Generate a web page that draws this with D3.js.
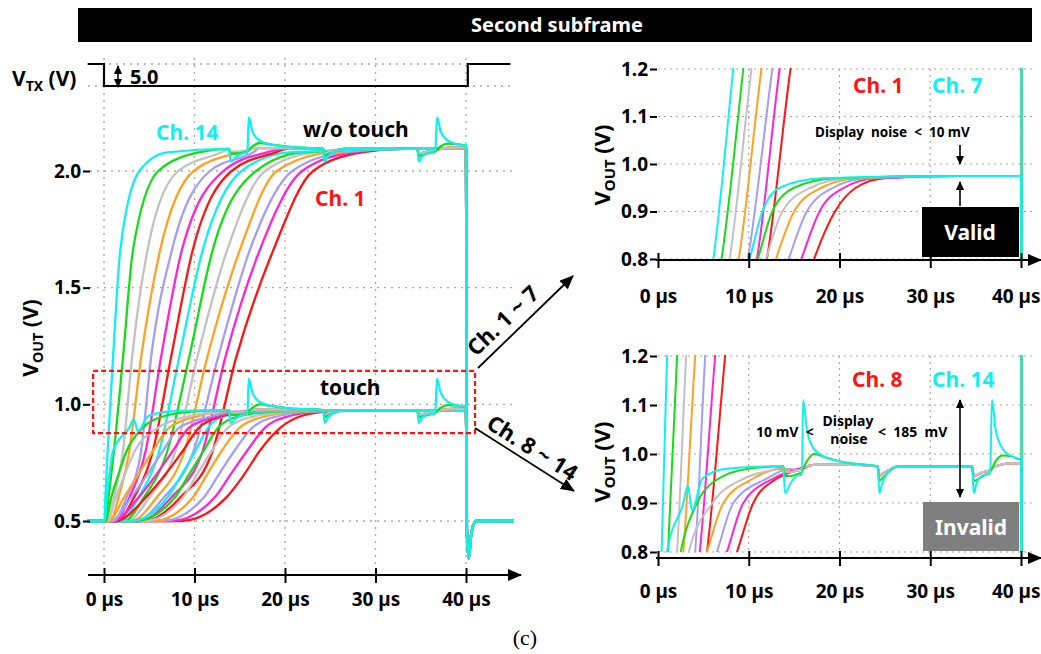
<!DOCTYPE html>
<html>
<head>
<meta charset="utf-8">
<script src="https://cdn.jsdelivr.net/npm/d3@7"></script>
<style>
  body { margin: 0; background: #fff; }
  svg text { font-family: "Noto Sans", "DejaVu Sans", sans-serif; font-weight: 700; white-space: pre; }
</style>
</head>
<body>
<div id="chart"></div>
<script>
// ---- values ----
const channels = ["Ch. 1", "Ch. 2", "Ch. 3", "Ch. 4", "Ch. 5", "Ch. 6", "Ch. 7",
                  "Ch. 8", "Ch. 9", "Ch. 10", "Ch. 11", "Ch. 12", "Ch. 13", "Ch. 14"];
const channelColors = ["#ff1414", "#ff24d2", "#a59ef2", "#ffa224", "#c2c2c2", "#16dc16", "#10f0f0",
                       "#ff1414", "#ff24d2", "#a59ef2", "#ffa224", "#c2c2c2", "#16dc16", "#10f0f0"];
const timeTicks = [0, 10, 20, 30, 40];
const mainVTicks = [0.5, 1.0, 1.5, 2.0];
const zoomVTicks = [0.8, 0.9, 1.0, 1.1, 1.2];

// V_TX pulse
const vtxT = [-1.8, 0, 0, 40.2, 40.2, 44.9];
const vtxV = [5, 5, 0, 0, 5, 5];

// w/o touch: time (us) where each channel crosses each level (V)
const noTouchLevels = [0.5, 0.6, 0.8, 1.2, 1.66, 2.0, 2.08];
const noTouchTimes = [
  [4.5, 8.4, 12.0, 14.6, 18.7, 23.1, 28.5],
  [4.0, 7.4, 10.9, 13.4, 17.2, 21.9, 27.5],
  [3.5, 6.6, 9.9, 12.6, 16.1, 20.8, 26.5],
  [3.0, 5.8, 8.9, 11.4, 15.0, 19.1, 25.0],
  [2.6, 5.0, 7.9, 10.3, 13.6, 17.8, 23.5],
  [2.2, 4.4, 7.0, 9.4, 12.0, 16.8, 22.0],
  [1.8, 3.8, 6.1, 8.3, 10.9, 15.2, 20.5],
  [1.5, 3.3, 5.4, 7.4, 9.8, 14.1, 19.0],
  [1.2, 2.8, 4.6, 6.3, 8.6, 13.2, 18.0],
  [1.0, 2.5, 4.1, 5.2, 7.5, 11.7, 16.5],
  [0.7, 1.6, 2.8, 4.1, 6.2, 9.9, 15.0],
  [0.5, 1.1, 2.1, 3.1, 4.8, 8.2, 13.0],
  [0.2, 0.5, 1.1, 2.1, 3.2, 6.0, 10.5],
  [0.05, 0.15, 0.4, 1.0, 1.8, 3.9, 7.0]
];
const noTouchPlateau = 2.095;

// touch: same idea, lower plateau
const touchLevels = [0.5, 0.6, 0.7, 0.8, 0.9, 0.95, 0.97];
const touchTimes = [
  [8.5, 13.5, 15.5, 17.2, 19.5, 21.8, 25.0],
  [7.5, 12.2, 14.0, 15.8, 17.8, 20.5, 24.0],
  [6.5, 11.0, 12.7, 14.4, 16.4, 19.3, 23.0],
  [5.5, 9.8, 11.4, 13.0, 15.0, 18.0, 22.0],
  [4.5, 8.7, 10.3, 11.9, 13.7, 16.8, 21.0],
  [3.5, 7.8, 9.4, 11.0, 12.6, 15.0, 19.5],
  [3.0, 7.0, 8.6, 10.1, 11.5, 13.4, 18.0],
  [1.3, 4.6, 6.8, 8.7, 10.5, 13.1, 16.0],
  [1.0, 3.8, 5.8, 7.6, 9.4, 12.7, 15.5],
  [0.8, 3.0, 4.8, 6.5, 8.3, 12.0, 14.5],
  [0.5, 2.2, 3.8, 5.4, 7.2, 10.5, 13.8],
  [0.3, 1.3, 2.3, 3.4, 6.0, 9.5, 13.0],
  [0.2, 0.8, 1.6, 2.5, 4.3, 6.7, 10.0],
  [0.1, 0.3, 0.6, 1.0, 2.8, 4.9, 7.5]
];
const touchPlateau = 0.975;
const touchBump14 = [[3.3, 0.935], [3.75, 0.885]];

// display noise after settling (offset from plateau, V), Ch. 8 ~ 14 only
const noiseT     = [13.8, 14.0, 14.6, 15.5, 15.85, 16.0, 16.4, 17.2, 18.5, 20.5, 24.2, 24.4, 24.7, 25.4, 26.5, 34.6, 34.8, 35.1, 35.8, 36.6, 36.8, 37.2, 38.0, 39.0, 39.8];
const noiseCyan  = [0, -0.055, -0.035, -0.018, -0.018, 0.135, 0.075, 0.035, 0.018, 0.008, 0, -0.055, -0.035, -0.012, 0, 0, -0.055, -0.035, -0.018, -0.015, 0.135, 0.075, 0.035, 0.02, 0.015];
const noiseGreen = [0, -0.02, -0.02, -0.015, -0.012, -0.005, 0.01, 0.025, 0.018, 0.008, 0, -0.03, -0.025, -0.012, 0, 0, -0.03, -0.028, -0.02, -0.012, -0.005, 0.01, 0.022, 0.02, 0.015];
const noiseOther = [0, -0.012, -0.012, -0.008, -0.006, -0.003, 0, 0.003, 0.003, 0.003, 0, -0.02, -0.016, -0.008, 0, 0, -0.02, -0.018, -0.012, -0.008, -0.004, 0, 0.004, 0.006, 0.006];
const noiseGroup = ["", "", "", "", "", "", "", "other", "other", "other", "other", "other", "green", "cyan"];

// end of subframe, back to 0.5 V
const startT = -1.8;
const fallT = [40.1, 40.3, 40.6, 41.1, 45.3];
const fallV = [0.45, 0.34, 0.45, 0.5, 0.5];

// ---- build traces ----
const noiseSets = { cyan: noiseCyan, green: noiseGreen, other: noiseOther };

function trace(levels, times, plateau, group, extra) {
  let pts = [[startT, levels[0]]];
  levels.forEach((v, i) => pts.push([times[i], v]));
  if (extra) pts = pts.concat(extra);
  const last = times[times.length - 1];
  const nz = noiseSets[group];
  let endOffset = 0;
  if (nz) {
    noiseT.forEach((t, i) => { if (t > last + 0.6) pts.push([t, plateau + nz[i]]); });
    endOffset = nz[nz.length - 1];
  } else {
    pts.push([Math.max(last + 3, 33), plateau]);
  }
  pts.push([40, plateau + endOffset]);
  fallT.forEach((t, i) => pts.push([t, fallV[i]]));
  return pts.sort((a, b) => a[0] - b[0]);
}

const traces = [];
channels.forEach((name, i) => {
  traces.push({ ch: i, color: channelColors[i],
    pts: trace(touchLevels, touchTimes[i], touchPlateau, noiseGroup[i], i === 13 ? touchBump14 : null) });
  traces.push({ ch: i, color: channelColors[i],
    pts: trace(noTouchLevels, noTouchTimes[i], noTouchPlateau, noiseGroup[i]) });
});

// ---- svg ----
const width = 1041;
const height = 654;
const svg = d3.select("#chart").append("svg")
  .attr("width", width).attr("height", height);
svg.append("rect").attr("width", width).attr("height", height).attr("fill", "#fff");

const defs = svg.append("defs");
function addMarker(id, w, h) {
  defs.append("marker").attr("id", id)
    .attr("viewBox", `0 0 ${w} ${h}`).attr("refX", w - 1).attr("refY", h / 2)
    .attr("markerWidth", w).attr("markerHeight", h)
    .attr("markerUnits", "userSpaceOnUse").attr("orient", "auto-start-reverse")
    .append("path").attr("d", `M0,0 L${w},${h / 2} L0,${h} z`).attr("fill", "#000");
}
addMarker("arrowL", 14, 12);
addMarker("arrowS", 9, 8);

const GRID = "#a8a8a8";

function vLabel(g, tx, ty, size) {
  const t = g.append("text").attr("transform", `translate(${tx},${ty}) rotate(-90)`)
    .attr("text-anchor", "middle").attr("font-size", size);
  t.append("tspan").text("V");
  t.append("tspan").text("OUT").attr("font-size", size * 0.68).attr("dy", size * 0.22);
  t.append("tspan").text(" (V)").attr("dy", -size * 0.22);
}

function timeAxis(g, xs, y0, x0, x1, labelDy, clipLast) {
  g.append("line").attr("x1", x0).attr("x2", x1).attr("y1", y0).attr("y2", y0)
    .attr("stroke", "#000").attr("stroke-width", 2.2).attr("marker-end", "url(#arrowL)");
  const ax = g.append("g").attr("transform", `translate(0,${y0})`)
    .call(d3.axisBottom(xs).tickValues(timeTicks).tickFormat(d => d + " µs").tickSize(8));
  ax.select(".domain").remove();
  ax.selectAll(".tick line").attr("y1", -7).attr("y2", 8).attr("stroke", "#000").attr("stroke-width", 2);
  ax.selectAll(".tick text").attr("y", labelDy).attr("dy", 0).attr("fill", "#000")
    .attr("font-size", 19).attr("font-family", null);
  // last label sits against the page edge
  if (clipLast) {
    ax.selectAll(".tick text").filter(d => d === 40)
      .attr("text-anchor", "end").attr("x", width - 1 - xs(40));
  }
}

function valueAxis(g, ys, ticks, x0) {
  const ax = g.append("g").attr("transform", `translate(${x0},0)`)
    .call(d3.axisLeft(ys).tickValues(ticks).tickFormat(d3.format(".1f")).tickSize(7).tickPadding(2));
  ax.select(".domain").remove();
  ax.selectAll(".tick line").attr("stroke", "#000").attr("stroke-width", 2);
  ax.selectAll(".tick text").attr("fill", "#000").attr("font-size", 19).attr("font-family", null);
}

// title bar
svg.append("rect").attr("x", 78).attr("y", 8).attr("width", 954).attr("height", 34).attr("fill", "#000");
svg.append("text").attr("x", 557).attr("y", 32).attr("text-anchor", "middle")
  .attr("fill", "#fff").attr("font-size", 20).text("Second subframe");

// ================= main panel =================
const x = d3.scaleLinear().domain([0, 40]).range([104, 466]);
const y = d3.scaleLinear().domain([0.5, 2.0]).range([521, 171]);
const yTx = d3.scaleLinear().domain([0, 5]).range([86, 64]);
const main = svg.append("g");

// grid
main.selectAll(".vg").data(timeTicks).enter().append("line")
  .attr("x1", d => x(d)).attr("x2", d => x(d)).attr("y1", 58).attr("y2", 568)
  .attr("stroke", GRID).attr("stroke-width", 1.3).attr("stroke-dasharray", "2,5");
main.selectAll(".hg").data(mainVTicks).enter().append("line")
  .attr("x1", 90).attr("x2", 515).attr("y1", d => y(d)).attr("y2", d => y(d))
  .attr("stroke", GRID).attr("stroke-width", 1.3).attr("stroke-dasharray", "2,5");
main.selectAll(".tg").data([0, 5]).enter().append("line")
  .attr("x1", 88).attr("x2", 515).attr("y1", d => yTx(d)).attr("y2", d => yTx(d))
  .attr("stroke", GRID).attr("stroke-width", 1.3).attr("stroke-dasharray", "2,5");

// V_TX pulse
main.append("path")
  .datum(vtxT.map((t, i) => [t, vtxV[i]]))
  .attr("d", d3.line().x(d => x(d[0])).y(d => yTx(d[1])))
  .attr("fill", "none").attr("stroke", "#000").attr("stroke-width", 2.2);
const vtxLabel = main.append("text").attr("x", 12).attr("y", 86).attr("font-size", 21);
vtxLabel.append("tspan").text("V");
vtxLabel.append("tspan").text("TX").attr("font-size", 14).attr("dy", 5);
vtxLabel.append("tspan").text(" (V)").attr("dy", -5);
main.append("line").attr("x1", 118).attr("x2", 118).attr("y1", 66).attr("y2", 87)
  .attr("stroke", "#000").attr("stroke-width", 1.6)
  .attr("marker-start", "url(#arrowS)").attr("marker-end", "url(#arrowS)");
main.append("text").attr("x", 130).attr("y", 84).attr("font-size", 20).text("5.0");

// traces
const mainLine = d3.line().x(d => x(d[0])).y(d => y(d[1])).curve(d3.curveMonotoneX);
main.selectAll(".tr").data(traces).enter().append("path")
  .attr("d", d => mainLine(d.pts))
  .attr("fill", "none").attr("stroke", d => d.color).attr("stroke-width", 2.3);

// axes
timeAxis(main, x, 575, 88, 521, 31, false);
valueAxis(main, y, mainVTicks, 90);
vLabel(main, 38, 338, 21);

// zoom box around touch traces
main.append("rect").attr("x", x(-1.2)).attr("y", y(1.143))
  .attr("width", x(41) - x(-1.2)).attr("height", y(0.877) - y(1.143))
  .attr("fill", "none").attr("stroke", "#ff1010").attr("stroke-width", 2.2).attr("stroke-dasharray", "5,3");

// annotations
main.append("text").attr("x", 156).attr("y", 140).attr("font-size", 21).attr("fill", "#10f0f0").text("Ch. 14");
main.append("text").attr("x", 303).attr("y", 137).attr("font-size", 21).attr("fill", "#000").text("w/o touch");
main.append("text").attr("x", 315).attr("y", 206).attr("font-size", 21).attr("fill", "#ff1414").text("Ch. 1");
main.append("text").attr("x", 320).attr("y", 395).attr("font-size", 21).attr("fill", "#000").text("touch");

// arrows to the zoomed panels
main.append("line").attr("x1", 478).attr("y1", 368).attr("x2", 573).attr("y2", 276)
  .attr("stroke", "#000").attr("stroke-width", 1.8).attr("marker-end", "url(#arrowL)");
main.append("text").attr("transform", "translate(478,368) rotate(-44)")
  .attr("x", 6).attr("y", -9).attr("font-size", 22).text("Ch. 1 ~ 7");
main.append("line").attr("x1", 475).attr("y1", 428).attr("x2", 574).attr("y2", 491)
  .attr("stroke", "#000").attr("stroke-width", 1.8).attr("marker-end", "url(#arrowL)");
main.append("text").attr("transform", "translate(475,428) rotate(32.3)")
  .attr("x", 8).attr("y", -6).attr("font-size", 22).text("Ch. 8 ~ 14");

// ================= zoomed panels =================
const xz = d3.scaleLinear().domain([0, 40]).range([658, 1021]);

function zoomPanel(id, yTop, yBottom, chFrom, chTo, axisY, labelDy, labelCy) {
  const yz = d3.scaleLinear().domain([0.8, 1.2]).range([yBottom, yTop]);
  const g = svg.append("g");
  defs.append("clipPath").attr("id", id).append("rect")
    .attr("x", 656).attr("y", yTop - 1).attr("width", 372).attr("height", yBottom - yTop + 1);

  g.selectAll(".vg").data(timeTicks.slice(1)).enter().append("line")
    .attr("x1", d => xz(d)).attr("x2", d => xz(d)).attr("y1", yTop).attr("y2", yBottom)
    .attr("stroke", GRID).attr("stroke-width", 1.2).attr("stroke-dasharray", "2,4");
  g.selectAll(".hg").data(zoomVTicks).enter().append("line")
    .attr("x1", 658).attr("x2", 1035).attr("y1", d => yz(d)).attr("y2", d => yz(d))
    .attr("stroke", GRID).attr("stroke-width", 1.2).attr("stroke-dasharray", "2,4");

  const zl = d3.line().x(d => xz(d[0])).y(d => yz(d[1])).curve(d3.curveMonotoneX);
  g.append("g").attr("clip-path", `url(#${id})`)
    .selectAll("path").data(traces.filter(d => d.ch >= chFrom && d.ch <= chTo)).enter().append("path")
    .attr("d", d => zl(d.pts))
    .attr("fill", "none").attr("stroke", d => d.color).attr("stroke-width", 2);

  timeAxis(g, xz, axisY, 656, 1041, labelDy, true);
  valueAxis(g, yz, zoomVTicks, 657);
  vLabel(g, 610, labelCy, 22);
  return g;
}

// Ch. 1 ~ 7
const up = zoomPanel("clipUp", 69, 259, 0, 6, 260, 43, 165);
up.append("text").attr("x", 853).attr("y", 93).attr("font-size", 21).attr("fill", "#ff1414").text("Ch. 1");
up.append("text").attr("x", 932).attr("y", 93).attr("font-size", 21).attr("fill", "#10f0f0").text("Ch. 7");
up.append("text").attr("x", 815).attr("y", 137).attr("font-size", 13.5).text("Display  noise  <  10 mV");
up.append("line").attr("x1", 960).attr("x2", 960).attr("y1", 145).attr("y2", 164)
  .attr("stroke", "#000").attr("stroke-width", 1.6).attr("marker-end", "url(#arrowS)");
up.append("line").attr("x1", 960).attr("x2", 960).attr("y1", 206).attr("y2", 182)
  .attr("stroke", "#000").attr("stroke-width", 1.6).attr("marker-end", "url(#arrowS)");
up.append("rect").attr("x", 922).attr("y", 207).attr("width", 97).attr("height", 50).attr("fill", "#000");
up.append("text").attr("x", 970).attr("y", 240).attr("text-anchor", "middle")
  .attr("font-size", 21).attr("fill", "#fff").text("Valid");

// Ch. 8 ~ 14
const low = zoomPanel("clipLow", 356, 552, 7, 13, 558, 40, 462);
low.append("text").attr("x", 852).attr("y", 387).attr("font-size", 21).attr("fill", "#ff1414").text("Ch. 8");
low.append("text").attr("x", 932).attr("y", 387).attr("font-size", 21).attr("fill", "#10f0f0").text("Ch. 14");
low.append("text").attr("x", 756).attr("y", 437).attr("font-size", 14).text("10 mV  <");
low.append("text").attr("x", 848).attr("y", 426).attr("text-anchor", "middle").attr("font-size", 14).text("Display");
low.append("text").attr("x", 849).attr("y", 444).attr("text-anchor", "middle").attr("font-size", 14).text("noise");
low.append("text").attr("x", 878).attr("y", 437).attr("font-size", 14).text("<  185  mV");
low.append("line").attr("x1", 960).attr("x2", 960).attr("y1", 400).attr("y2", 497)
  .attr("stroke", "#000").attr("stroke-width", 1.6)
  .attr("marker-start", "url(#arrowS)").attr("marker-end", "url(#arrowS)");
low.append("rect").attr("x", 923).attr("y", 502).attr("width", 96).attr("height", 49).attr("fill", "#7f7f7f");
low.append("text").attr("x", 971).attr("y", 535).attr("text-anchor", "middle")
  .attr("font-size", 21).attr("fill", "#fff").text("Invalid");

// caption
svg.append("text").attr("x", 525).attr("y", 645).attr("text-anchor", "middle")
  .style("font-family", "'Liberation Serif', serif").style("font-weight", 400)
  .attr("font-size", 22).text("(c)");
</script>
</body>
</html>
